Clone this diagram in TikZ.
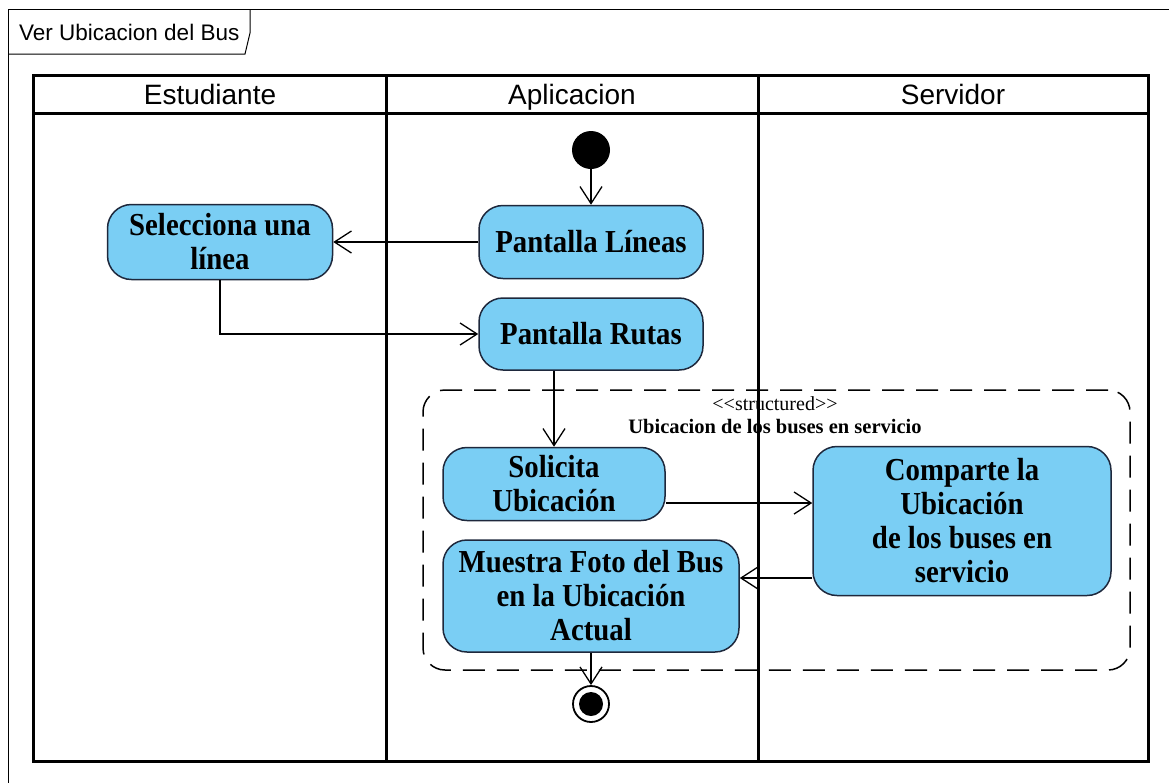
\documentclass[tikz,border=0pt]{standalone}
\usepackage{fontspec}
\setmainfont{Liberation Serif}
\newfontfamily\arialf{Liberation Sans}
\newfontfamily\actfont[FakeStretch=0.9]{Liberation Serif}
\usetikzlibrary{arrows.meta,calc}
\definecolor{actfill}{RGB}{122,206,244}
\definecolor{actdraw}{RGB}{30,40,60}
\begin{document}
\begin{tikzpicture}[x=1pt,y=-1pt,
  act/.style={draw=actdraw, line width=1.5pt, fill=actfill, rounded corners=24pt, align=center, font=\actfont\fontsize{32}{34}\selectfont\bfseries, inner sep=0pt},
  flow/.style={line width=1.4pt, -{Straight Barb[length=17pt,width=22pt,line width=1.3pt]}},
  lane/.style={line width=3pt},
  lanetitle/.style={font=\arialf\fontsize{28}{30}\selectfont, inner sep=0pt, anchor=base}
]
\useasboundingbox (0,0) rectangle (1169,782);
\fill[white] (0,0) rectangle (1169,782);
% outer frame and tab
\draw[line width=1pt] (8,800) -- (8,9) -- (1180,9);
\draw[line width=1pt] (8,54) -- (245,54) -- (250,33) -- (250,9);
\node[font=\arialf\fontsize{22.5}{24}\selectfont, anchor=west, inner sep=0pt] (title) at (19,32) {Ver Ubicacion del Bus};
% structured region
\node[draw, line width=1.5pt, dash pattern=on 22pt off 12pt, rounded corners=22pt, minimum width=707pt, minimum height=280pt, inner sep=0pt] (region) at (776.5,530) {};
\node[font=\fontsize{20}{21}\selectfont, inner sep=0pt] (st) at (775,404) {<\kern0pt<structured>\kern0pt>};
\node[font=\fontsize{20.5}{21}\selectfont\bfseries, inner sep=0pt] (sn) at (775,427) {Ubicacion de los buses en servicio};
% swimlanes
\draw[lane] (33,75) rectangle (1148,761);
\draw[lane] (33,113) -- (1148,113);
\draw[lane] (386,75) -- (386,761);
\draw[lane] (758,75) -- (758,761);
\node[lanetitle] (h1) at (210,104) {Estudiante};
\node[lanetitle] (h2) at (572,104) {Aplicacion};
\node[lanetitle] (h3) at (953,104) {Servidor};
% initial / final
\node[circle, fill=black, minimum size=38pt, inner sep=0pt] (ini) at (591,150) {};
\node[circle, draw, line width=1.8pt, fill=white, minimum size=36pt, inner sep=0pt] (fin) at (591,704) {};
\node[circle, fill=black, minimum size=24pt, inner sep=0pt] (fin2) at (fin) {};
% activities
\node[act, minimum width=225pt, minimum height=75pt] (sel) at (220,242) {Selecciona una\\línea};
\node[act, minimum width=224pt, minimum height=73pt] (lin) at (591,242) {Pantalla Líneas};
\node[act, minimum width=224pt, minimum height=72pt] (rut) at (591,334) {Pantalla Rutas};
\node[act, minimum width=222pt, minimum height=73pt] (sol) at (554,484) {Solicita\\Ubicación};
\node[act, minimum width=296pt, minimum height=112pt] (mue) at (591,596) {Muestra Foto del Bus\\en la Ubicación\\Actual};
\node[act, minimum width=298pt, minimum height=149pt] (com) at (962,521) {Comparte la\\Ubicación\\de los buses en\\servicio};
% flows
\draw[flow] (ini) -- (lin);
\draw[flow] (lin.west) -- (sel.east);
\draw[flow] (sel.south) |- (rut.west);
\draw[flow] (sol.north |- rut.south) -- (sol.north);
\draw[flow] ([yshift=-19pt]sol.east) -- ([yshift=-19pt]sol.east -| com.west);
\draw[flow] ([yshift=-57pt]com.west) -- ([yshift=-57pt]com.west -| mue.east);
\draw[flow] (mue.south) -- (fin.north);
\end{tikzpicture}
\end{document}
